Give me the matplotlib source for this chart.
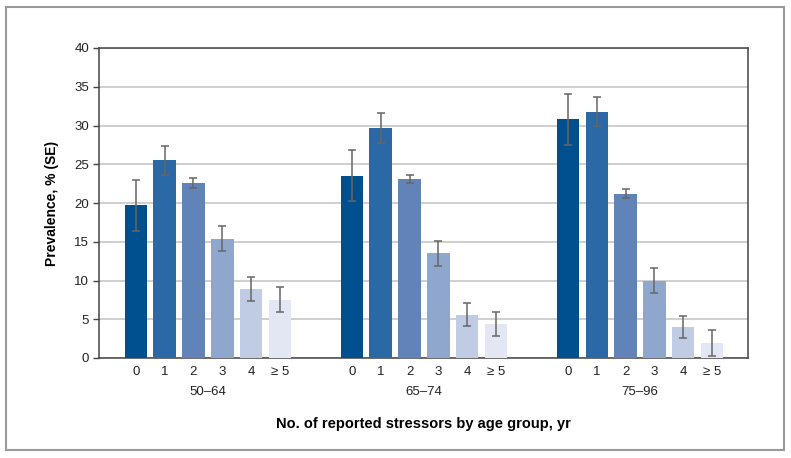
import matplotlib.pyplot as plt
from matplotlib.patches import Rectangle
import numpy as np

plt.rcParams['font.family'] = ['Liberation Sans', 'DejaVu Sans']

age_groups = ['50–64', '65–74', '75–96']
stressors = ['0', '1', '2', '3', '4', '≥ 5']
prevalence = [
    [19.7, 25.5, 22.6, 15.4, 8.9, 7.5],
    [23.5, 29.7, 23.1, 13.5, 5.6, 4.4],
    [30.8, 31.8, 21.2, 10.0, 4.0, 1.9],
]
se = [
    [3.3, 1.9, 0.6, 1.6, 1.5, 1.6],
    [3.3, 1.9, 0.55, 1.65, 1.45, 1.6],
    [3.3, 1.85, 0.6, 1.6, 1.45, 1.65],
]
colors = ['#00508f', '#2a69a6', '#6283b8', '#8fa6cd', '#c0cbe4', '#e3e7f4']

fig = plt.figure(figsize=(7.91, 4.58), dpi=100)
ax = fig.add_axes([99 / 791, 1 - 358 / 458, (748 - 99) / 791, (358 - 48) / 458])

# outer frame
fig.patches.append(Rectangle((6 / 791, 1 - 450 / 458), 778 / 791, 443 / 458,
                             transform=fig.transFigure, fill=False,
                             edgecolor='#9a9a9a', linewidth=1.5))

gap = 7.5
xticks = []
xlabels = []
for g, grp in enumerate(age_groups):
    x = np.arange(len(stressors)) + g * gap
    ax.bar(x, prevalence[g], width=0.78, color=colors, zorder=3)
    ax.errorbar(x, prevalence[g], yerr=se[g], fmt='none', ecolor='#666666',
                elinewidth=1.1, capsize=3, capthick=1.1, zorder=4)
    xticks.extend(x)
    xlabels.extend(stressors)
    ax.text(g * gap + 2.5, -0.09, grp, transform=ax.get_xaxis_transform(),
            ha='center', va='top', fontsize=9.5, color='#222222')

ax.set_xticks(xticks)
ax.set_xticklabels(xlabels, fontsize=9.5, color='#222222')
ax.tick_params(axis='x', length=0, pad=6)
ax.set_xlim(-1.28, 21.25)

ax.set_ylim(0, 40)
ax.set_yticks(range(0, 41, 5))
ax.tick_params(axis='y', labelsize=9.5, labelcolor='#222222', length=4,
               width=1, color='#444444', pad=3)
ax.yaxis.grid(True, color='#cccccc', linewidth=1.3, zorder=0)
ax.set_axisbelow(True)

for side in ['left', 'right', 'top', 'bottom']:
    ax.spines[side].set_color('#444444')
    ax.spines[side].set_linewidth(1.1)

ax.set_ylabel('Prevalence, % (SE)', fontsize=10, fontweight='bold', labelpad=11)
ax.set_xlabel('No. of reported stressors by age group, yr', fontsize=10.5,
              fontweight='bold', labelpad=28)

fig.savefig('out.png', dpi=100)
